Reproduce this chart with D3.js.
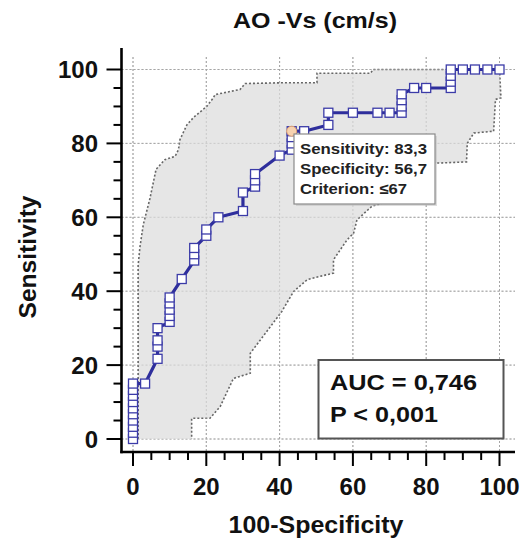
<!DOCTYPE html>
<html><head><meta charset="utf-8">
<script src="https://cdn.jsdelivr.net/npm/d3@7"></script>
<style>
html,body{margin:0;padding:0;background:#fff;}
svg{display:block;font-family:"Liberation Sans",Arial,sans-serif;}
</style></head>
<body><div id="chart"></div>
<script>
// ROC curve points: 100-Specificity (x) and Sensitivity (y)
const rocX = [0,0,0,0,0,0,0,0,0,0, 3.3, 6.7,6.7,6.7,6.7, 10,10,10,10,10, 13.3, 16.7,16.7,16.7, 20,20, 23.3, 30,30, 33.3,33.3,33.3, 40, 43.3,43.3,43.3,43.3, 46.7, 53.3,53.3, 60,66.7,70, 73.3,73.3,73.3,73.3, 76.7,80, 86.7,86.7,86.7,86.7, 90,93.3,96.7,100];
const rocY = [0,1.7,3.3,5,6.7,8.3,10,11.7,13.3,15, 15, 21.7,25,26.7,30, 31.7,33.3,35,36.7,38.3, 43.3, 48.3,50,51.7, 55,56.7, 60, 61.7,66.7, 68.3,70,71.7, 76.7, 78.3,80,81.7,83.3, 83.3, 85,88.3, 88.3,88.3,88.3, 88.3,90,91.7,93.3, 95,95, 95,96.7,98.3,100, 100,100,100,100];
// Confidence band: upper (left) boundary and lower (right) boundary
const ciUpperX = [1.4,1.4,1.9,2.8,4.6,6.3,8.7,11.5,12.4,12.8,14.7,16.5,20.1,21.9,22.4,29.2,30.6,40.2,50.2,50.2,64.8,65.5,100];
const ciUpperY = [0,47,52,58,65,73,75.6,76.5,78.3,81,85,87,90,92.3,93.2,94.6,96.2,96.4,96.4,99,99,100,100];
const ciLowerX = [100,100.4,98.9,98.4,93,91.2,91,83.9,68.4,68.4,65.2,61.1,60.2,58.4,54.7,54.7,51,47.5,43.8,40.6,32,32,27.4,23.8,21,16,16];
const ciLowerY = [100,92.3,91.9,83.3,82.8,80,75,74.7,74.7,63.9,63,59.3,55.7,53.9,48.5,44.9,44,43.1,39.9,34.5,23.2,17.8,16.4,8.8,5.6,5.6,0];
// Ticks
const majorTicks = [0,20,40,60,80,100];
const minorTicks = d3.range(0,101,5);
// Texts
const title = "AO -Vs (cm/s)";
const xTitle = "100-Specificity";
const yTitle = "Sensitivity";
const criterionLines = ["Sensitivity: 83,3","Specificity: 56,7","Criterion: \u226467"];
const criterionPoint = [43.3, 83.3];
const aucLines = ["AUC = 0,746","P < 0,001"];

const W = 527, H = 544;
const svg = d3.select("#chart").append("svg").attr("width",W).attr("height",H);
const x = d3.scaleLinear().domain([0,100]).range([133,499.5]);
const y = d3.scaleLinear().domain([0,100]).range([439,69.5]);
const gx0 = 121.5, gx1 = 515, gy0 = 57, gy1 = 452;

// grid
const grid = svg.append("g").attr("stroke","#9a9a9a").attr("stroke-width",1).attr("stroke-dasharray","2,2").attr("fill","none");
majorTicks.forEach(t=>{
  grid.append("line").attr("x1",x(t)).attr("x2",x(t)).attr("y1",gy0).attr("y2",gy1);
  grid.append("line").attr("x1",gx0).attr("x2",gx1).attr("y1",y(t)).attr("y2",y(t));
});

// CI band
const band = ciUpperX.map((v,i)=>[v,ciUpperY[i]]).concat(ciLowerX.map((v,i)=>[v,ciLowerY[i]]));
const lineGen = d3.line().x(d=>x(d[0])).y(d=>y(d[1]));
svg.append("path").attr("d",lineGen(band)+"Z").attr("fill","#e6e6e6").attr("stroke","none");
svg.append("path").attr("d",lineGen(ciUpperX.map((v,i)=>[v,ciUpperY[i]]))).attr("fill","none").attr("stroke","#666").attr("stroke-width",1.6).attr("stroke-dasharray","2,2");
svg.append("path").attr("d",lineGen(ciLowerX.map((v,i)=>[v,ciLowerY[i]]))).attr("fill","none").attr("stroke","#666").attr("stroke-width",1.6).attr("stroke-dasharray","2,2");

// grid redraw lightly over band
const grid2 = svg.append("g").attr("stroke","#b0b0b0").attr("stroke-width",1).attr("stroke-dasharray","2,2").attr("opacity",0.5);
majorTicks.forEach(t=>{
  grid2.append("line").attr("x1",x(t)).attr("x2",x(t)).attr("y1",gy0).attr("y2",gy1);
  grid2.append("line").attr("x1",gx0).attr("x2",gx1).attr("y1",y(t)).attr("y2",y(t));
});

// ROC line
const roc = rocX.map((v,i)=>[v,rocY[i]]);
svg.append("path").attr("d",lineGen(roc)).attr("fill","none").attr("stroke","#2e2e9c").attr("stroke-width",3.2).attr("stroke-linejoin","round");
svg.append("g").selectAll("rect").data(roc).join("rect")
  .attr("x",d=>x(d[0])-4.5).attr("y",d=>y(d[1])-4.5).attr("width",9).attr("height",9)
  .attr("fill","#fff").attr("stroke","#3b3ba8").attr("stroke-width",1.3);
svg.append("circle").attr("cx",x(criterionPoint[0])).attr("cy",y(criterionPoint[1])).attr("r",5)
  .attr("fill","#f7d2b0").attr("stroke","#e0a070").attr("stroke-width",1);

// axes
const ax = svg.append("g").attr("stroke","#000");
ax.append("line").attr("x1",gx0).attr("x2",gx0).attr("y1",48).attr("y2",gy1+1.2).attr("stroke-width",2.6);
ax.append("line").attr("x1",gx0-1.2).attr("x2",gx1).attr("y1",gy1).attr("y2",gy1).attr("stroke-width",2.6);
minorTicks.forEach(t=>{
  const maj = t%20===0;
  ax.append("line").attr("x1",x(t)).attr("x2",x(t)).attr("y1",gy1).attr("y2",gy1+(maj?14:8)).attr("stroke-width",2);
  ax.append("line").attr("x1",gx0).attr("x2",gx0-(maj?15:8)).attr("y1",y(t)).attr("y2",y(t)).attr("stroke-width",2);
});
const lab = svg.append("g").attr("font-weight","bold").attr("fill","#111");
majorTicks.forEach(t=>{
  const s = String(t);
  lab.append("text").attr("x",x(t)).attr("y",495).attr("text-anchor","middle").attr("font-size",24).text(s);
  lab.append("text").attr("x",98).attr("y",y(t)+8.5).attr("text-anchor","end").attr("font-size",24).text(s);
});
lab.append("text").attr("x",315).attr("y",28).attr("text-anchor","middle").attr("font-size",21.5)
  .attr("textLength",164).attr("lengthAdjust","spacingAndGlyphs").text(title);
lab.append("text").attr("x",316).attr("y",533).attr("text-anchor","middle").attr("font-size",23)
  .attr("textLength",175).attr("lengthAdjust","spacingAndGlyphs").text(xTitle);
lab.append("text").attr("transform","translate(36,257) rotate(-90)").attr("text-anchor","middle").attr("font-size",23)
  .attr("textLength",123).attr("lengthAdjust","spacingAndGlyphs").text(yTitle);

// criterion box
svg.append("rect").attr("x",296).attr("y",136).attr("width",141).attr("height",70).attr("fill","#bbb").attr("opacity",0.5);
svg.append("rect").attr("x",294).attr("y",134).attr("width",141).attr("height",70).attr("fill","#fff").attr("stroke","#8a8a8a").attr("stroke-width",1.2);
const cw = [127,127,107];
criterionLines.forEach((t,i)=>{
  svg.append("text").attr("x",300).attr("y",153.5+i*20).attr("font-size",15).attr("font-weight","bold").attr("fill","#222")
    .attr("textLength",cw[i]).attr("lengthAdjust","spacingAndGlyphs").text(t);
});

// AUC box
svg.append("rect").attr("x",318.5).attr("y",360).attr("width",185).attr("height",78.5).attr("fill","#fff").attr("stroke","#555").attr("stroke-width",2);
const aw = [147,108];
aucLines.forEach((t,i)=>{
  svg.append("text").attr("x",330).attr("y",389.5+i*32).attr("font-size",22.5).attr("font-weight","bold").attr("fill","#111")
    .attr("textLength",aw[i]).attr("lengthAdjust","spacingAndGlyphs").text(t);
});
</script></body></html>
